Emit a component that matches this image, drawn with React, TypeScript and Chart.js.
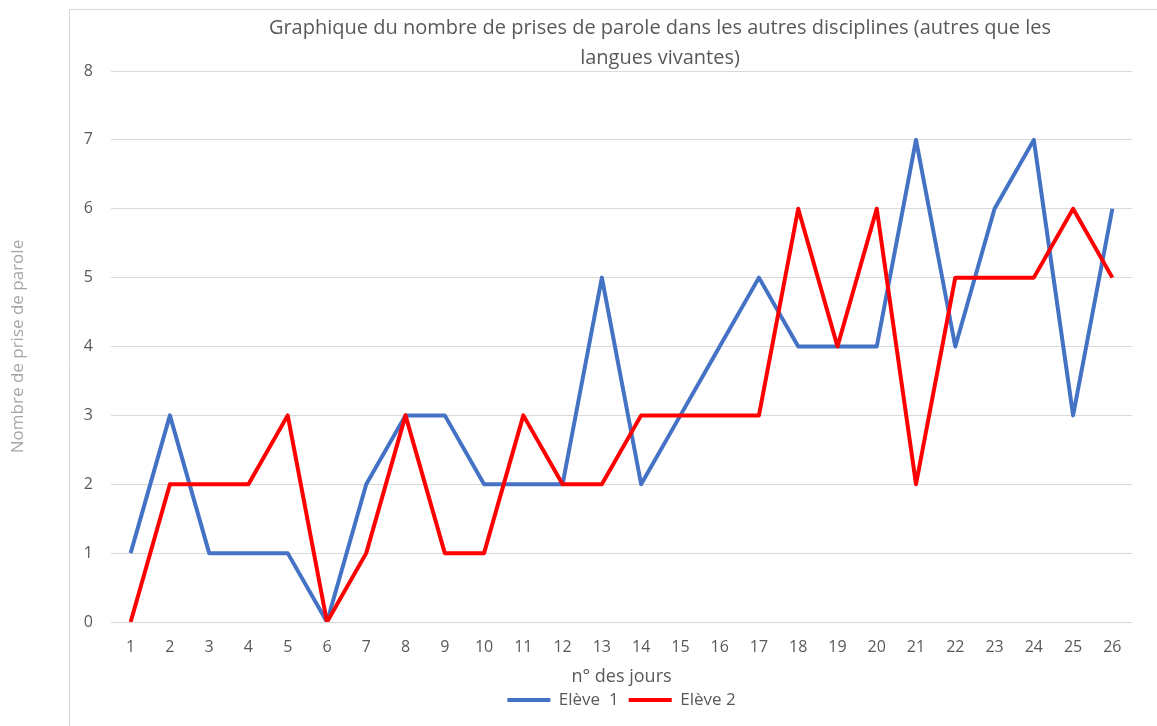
import React, { useEffect, useRef } from "react";
import { Chart, registerables } from "chart.js";

Chart.register(...registerables);

const days = ["1","2","3","4","5","6","7","8","9","10","11","12","13","14","15","16","17","18","19","20","21","22","23","24","25","26"];
const eleve1 = [1,3,1,1,1,0,2,3,3,2,2,2,5,2,3,4,5,4,4,4,7,4,6,7,3,6];
const eleve2 = [0,2,2,2,3,0,1,3,1,1,3,2,2,3,3,3,3,6,4,6,2,5,5,5,6,5];
const titleLines = ["Graphique du nombre de prises de parole dans les autres disciplines (autres que les", "langues vivantes)"];
const yTitle = "Nombre de prise de parole";
const xTitle = "n° des jours";
const seriesNames = ["Elève  1", "Elève 2"];

const FONT = "'Open Sans', 'Noto Sans', sans-serif";
const TEXT = "#595959";

const decorPlugin = {
  id: "decor",
  beforeDraw(chart: any) {
    const ctx = chart.ctx;
    ctx.save();
    ctx.strokeStyle = "#d9d9d9";
    ctx.lineWidth = 1;
    ctx.beginPath();
    ctx.moveTo(69.5, 726);
    ctx.lineTo(69.5, 9.5);
    ctx.lineTo(1157, 9.5);
    ctx.stroke();
    ctx.fillStyle = TEXT;
    ctx.font = `20px ${FONT}`;
    ctx.textAlign = "center";
    ctx.textBaseline = "middle";
    ctx.fillText(titleLines[0], 660, 28);
    ctx.fillText(titleLines[1], 660, 58);
    const ca = chart.chartArea;
    ctx.translate(18, (ca.top + ca.bottom) / 2);
    ctx.rotate(-Math.PI / 2);
    ctx.fillStyle = "#a6a6a6";
    ctx.font = `17px ${FONT}`;
    ctx.fillText(yTitle, 0, 0);
    ctx.restore();
  },
};

export default function App() {
  const ref = useRef<HTMLCanvasElement>(null);
  useEffect(() => {
    const chart = new Chart(ref.current!, {
      type: "line",
      data: {
        labels: days,
        datasets: [
          {
            label: seriesNames[0],
            data: eleve1,
            borderColor: "#4472C4",
            backgroundColor: "#4472C4",
            borderWidth: 4,
            pointRadius: 0,
            tension: 0,
            borderJoinStyle: "round",
            order: 1,
          },
          {
            label: seriesNames[1],
            data: eleve2,
            borderColor: "#FF0000",
            backgroundColor: "#FF0000",
            borderWidth: 4,
            pointRadius: 0,
            tension: 0,
            borderJoinStyle: "round",
            order: 0,
          },
        ],
      },
      options: {
        responsive: false,
        animation: false,
        devicePixelRatio: 1,
        layout: { padding: { left: 69, right: 25, top: 71, bottom: 7.5 } },
        plugins: {
          title: { display: false },
          tooltip: { enabled: false },
          legend: {
            position: "bottom",
            fullSize: false,
            labels: {
              usePointStyle: true,
              pointStyle: "line",
              pointStyleWidth: 43,
              boxHeight: 17,
              padding: 10,
              color: TEXT,
              font: { size: 17, family: FONT },
              sort: (a: any, b: any) => a.datasetIndex - b.datasetIndex,
            },
          },
        },
        scales: {
          x: {
            offset: true,
            grid: { display: false, drawTicks: false },
            border: { display: false },
            ticks: {
              color: TEXT,
              font: { size: 16, family: FONT },
              padding: 16,
              maxRotation: 0,
              autoSkip: false,
            },
            title: {
              display: true,
              text: xTitle,
              color: TEXT,
              font: { size: 18, family: FONT },
              padding: { top: 0, bottom: -6 },
            },
            afterFit: (s: any) => { s.height = 59.5; },
          },
          y: {
            min: 0,
            max: 8,
            grid: { color: "#d9d9d9", drawTicks: false },
            border: { display: false },
            ticks: {
              stepSize: 1,
              color: TEXT,
              font: { size: 16, family: FONT },
              padding: 18,
            },
            afterFit: (s: any) => { s.width = 42; },
          },
        },
      },
      plugins: [decorPlugin],
    });
    return () => chart.destroy();
  }, []);
  return (
    <div style={{ position: "fixed", left: 0, top: 0, width: 1157, height: 726, background: "#fff" }}>
      <canvas ref={ref} width={1157} height={726} />
    </div>
  );
}
